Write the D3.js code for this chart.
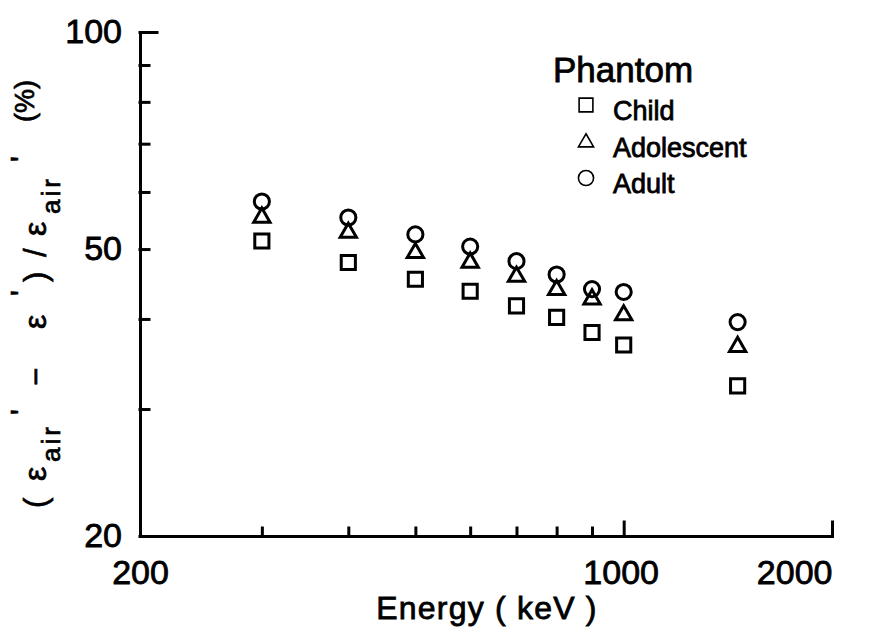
<!DOCTYPE html>
<html>
<head>
<meta charset="utf-8">
<script src="https://cdn.jsdelivr.net/npm/d3@7"></script>
<style>
	html, body { margin: 0; padding: 0; background: #fff; }
	text { font-family: "Liberation Sans", Arial, sans-serif; fill: #000; }
</style>
</head>
<body>
<div id="chart"></div>
<script>
// energies in keV, values in %
let energies = [300, 400, 500, 600, 700, 800, 900, 1000, 1461];
let child = [51.3, 47.9, 45.4, 43.7, 41.7, 40.2, 38.3, 36.8, 32.3];
let adolescent = [55.3, 52.7, 49.4, 47.9, 45.8, 43.9, 42.6, 40.5, 36.6];
let adult = [58.2, 55.3, 52.4, 50.4, 48.1, 46.1, 44.0, 43.6, 39.6];

let seriesNames = ["Child", "Adolescent", "Adult"];
let seriesSymbols = [d3.symbolSquare, d3.symbolTriangle, d3.symbolCircle];

let xTicks = [200, 300, 400, 500, 600, 700, 800, 900, 1000, 2000];
let xLabels = [200, 1000, 2000];
let yTicks = [20, 30, 40, 50, 60, 70, 80, 90, 100];
let yLabels = [20, 50, 100];

let WIDTH = 876;
let HEIGHT = 636;
let TEXT_STROKE = 0.8; // scanned original looks heavier than plain regular

let svg = d3.select("#chart").append("svg").
	attr("width", WIDTH).
	attr("height", HEIGHT).
	attr("viewBox", `0, 0, ${WIDTH}, ${HEIGHT}`);

svg.append("rect").
	attr("width", WIDTH).
	attr("height", HEIGHT).
	attr("fill", "#fff");

let x = d3.scaleLog().domain([200, 2000]).range([140, 832]);
let y = d3.scaleLog().domain([20, 100]).range([536, 32]);

// x axis, ticks pointing up
let xAxis = svg.append("g").
	attr("transform", `translate(0, ${y(20)})`).
	call(d3.axisBottom(x).
		tickValues(xTicks).
		tickSizeInner(-8).
		tickSizeOuter(0).
		tickPadding(24).
		tickFormat(d => xLabels.includes(d) ? d : ""));

xAxis.selectAll(".tick line").
	attr("y2", d => d >= 1000 ? -14 : -8);

xAxis.selectAll(".tick text").
	attr("text-anchor", d => d === 2000 ? "end" : "middle").
	attr("dx", d => d === 1000 ? -3 : 0);

// y axis, ticks pointing right
let yAxis = svg.append("g").
	attr("transform", `translate(${x(200)}, 0)`).
	call(d3.axisLeft(y).
		tickValues(yTicks).
		tickSizeInner(-9).
		tickSizeOuter(0).
		tickPadding(18).
		tickFormat(d => yLabels.includes(d) ? d : ""));

yAxis.selectAll(".tick line").
	attr("x2", d => d === 100 ? 17 : 9);

svg.selectAll(".domain, .tick line").
	attr("stroke", "#000").
	attr("stroke-width", 3).
	attr("stroke-linecap", "square");

svg.selectAll(".tick text").
	style("font-size", "34px").
	attr("stroke", "#000").
	attr("stroke-width", TEXT_STROKE);

// x title
svg.append("text").
	attr("x", 487).
	attr("y", 619).
	attr("text-anchor", "middle").
	style("font-size", "32px").
	style("letter-spacing", "1.2px").
	attr("stroke", "#000").
	attr("stroke-width", TEXT_STROKE).
	text("Energy ( keV )");

// y title, pieces laid along the rotated baseline
let title = svg.append("text").
	attr("transform", "translate(46, 508) rotate(-90)").
	attr("stroke", "#000").
	attr("stroke-width", 0.7);

let pieces = [
	["(", 0, 0, 31, 0],
	["ε", 27, 0, 32, 0],
	["air", 46, 14, 26, 3],
	["'", 93, -13, 31, 0],
	["−", 122, 0, 31, 0],
	["ε", 179, 0, 32, 0],
	["'", 212, -13, 31, 0],
	[")", 226, 0, 31, 0],
	["/", 251, 0, 31, 0],
	["ε", 272, 0, 32, 0],
	["air", 294, 14, 26, 3],
	["'", 346, -13, 31, 0],
	["(%)", 386, -12, 27, 0]
];

title.selectAll("tspan").
	data(pieces).
	join("tspan").
	attr("x", d => d[1]).
	attr("y", d => d[2]).
	style("font-size", d => d[3] + "px").
	style("letter-spacing", d => d[4] + "px").
	text(d => d[0]);

// data points
let series = [child, adolescent, adult];
let sizes = [200, 115, 180];

series.forEach((values, i) => {
	svg.append("g").
		selectAll("path").
		data(energies.map((e, j) => [e, values[j]])).
		join("path").
		attr("transform", d => `translate(${x(d[0])}, ${y(d[1])})`).
		attr("d", d3.symbol(seriesSymbols[i], sizes[i])).
		attr("fill", "none").
		attr("stroke", "#000").
		attr("stroke-width", 3);
});

// legend
let legend = svg.append("g");

legend.append("text").
	attr("x", 553).
	attr("y", 82).
	style("font-size", "35px").
	attr("stroke", "#000").
	attr("stroke-width", TEXT_STROKE).
	text("Phantom");

let entry = legend.selectAll("g.entry").
	data(seriesNames).
	join("g").
	attr("class", "entry").
	attr("transform", (d, i) => `translate(0, ${i * 36.5})`);

entry.append("path").
	attr("transform", (d, i) => `translate(586, ${i === 1 ? 106 : 105})`).
	attr("d", (d, i) => d3.symbol(seriesSymbols[i], [190, 100, 180][i])()).
	attr("fill", "none").
	attr("stroke", "#000").
	attr("stroke-width", 1.6);

entry.append("text").
	attr("x", 613).
	attr("y", 120).
	style("font-size", "27px").
	attr("stroke", "#000").
	attr("stroke-width", TEXT_STROKE).
	text(d => d);
</script>
</body>
</html>
